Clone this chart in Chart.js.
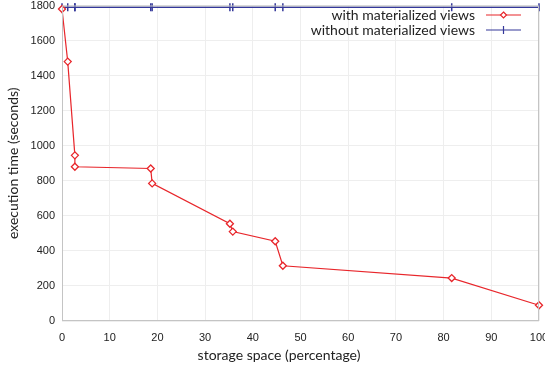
<!DOCTYPE html>
<html>
<head>
<meta charset="utf-8">
<script src="https://cdn.jsdelivr.net/npm/chart.js@4/dist/chart.umd.min.js"></script>
<style>
  html, body { margin: 0; padding: 0; background: #fff; }
  #wrap { width: 545px; height: 367px; }
</style>
</head>
<body>
<div id="wrap"><canvas id="chart"></canvas></div>
<script>
// storage space (%) vs execution time (s)
const storagePct = [0, 1.2, 2.7, 2.7, 18.6, 18.9, 35.2, 35.8, 44.7, 46.3, 81.7, 100];
const timeWithViews = [1780, 1480, 945, 880, 870, 785, 555, 510, 455, 315, 245, 90];
const timeWithoutViews = [1790, 1790, 1790, 1790, 1790, 1790, 1790, 1790, 1790, 1790, 1790, 1790];

const xTicks = [0, 10, 20, 30, 40, 50, 60, 70, 80, 90, 100];
const yTicks = [0, 200, 400, 600, 800, 1000, 1200, 1400, 1600, 1800];

const seriesLabels = ['with materialized views', 'without materialized views'];
const xTitle = 'storage space (percentage)';
const yTitle = 'execution time (seconds)';
const RED = '#e8262b';
const BLUE = '#34389a';
const TITLE_FONT = 'Lato, "Open Sans", sans-serif';

const toPoints = (xs, ys) => xs.map((x, i) => ({ x: x, y: ys[i] }));

// 图框 + 图例 + x轴标题 (gnuplot 风格)
const framePlugin = {
    id: 'frame',
    afterDatasetsDraw(chart) {
        const { ctx, chartArea: a } = chart;
        ctx.save();
        ctx.strokeStyle = '#c4c4c4';
        ctx.lineWidth = 1;
        ctx.strokeRect(a.left + 0.5, a.top + 0.5, a.right - a.left - 1, a.bottom - a.top - 1);

        // x 轴标题 (原图略偏左)
        ctx.font = '14px ' + TITLE_FONT;
        ctx.fillStyle = '#222';
        ctx.textAlign = 'center';
        ctx.textBaseline = 'middle';
        ctx.fillText(xTitle, 279, 355);

        // legend
        ctx.textAlign = 'right';
        const textRight = 475;
        const rows = [15, 30];
        const styles = [
            { color: RED, marker: 'diamond' },
            { color: BLUE, marker: 'tick' }
        ];
        rows.forEach((y, i) => {
            ctx.fillStyle = '#222';
            ctx.fillText(seriesLabels[i], textRight, y);
            const x0 = 486, x1 = 521, xm = (x0 + x1) / 2;
            ctx.strokeStyle = styles[i].color;
            ctx.lineWidth = 1.2;
            ctx.beginPath();
            ctx.moveTo(x0, y);
            ctx.lineTo(x1, y);
            ctx.stroke();
            ctx.beginPath();
            if (styles[i].marker === 'diamond') {
                ctx.moveTo(xm, y - 3);
                ctx.lineTo(xm + 3, y);
                ctx.lineTo(xm, y + 3);
                ctx.lineTo(xm - 3, y);
                ctx.closePath();
                ctx.fillStyle = '#fff';
                ctx.fill();
            } else {
                ctx.moveTo(xm, y - 4);
                ctx.lineTo(xm, y + 4);
            }
            ctx.stroke();
        });
        ctx.restore();
    }
};

new Chart(document.getElementById('chart'), {
    type: 'line',
    data: {
        datasets: [
            {
                label: seriesLabels[0],
                data: toPoints(storagePct, timeWithViews),
                borderColor: RED,
                backgroundColor: '#fff',
                borderWidth: 1.2,
                pointStyle: 'rectRot',
                pointRadius: 3.5,
                pointBorderWidth: 1.3,
                pointBorderColor: RED,
                tension: 0,
                clip: false
            },
            {
                label: seriesLabels[1],
                data: toPoints(storagePct, timeWithoutViews),
                borderColor: BLUE,
                backgroundColor: BLUE,
                borderWidth: 1.3,
                pointStyle: 'line',
                pointRotation: 90,
                pointRadius: 4,
                pointBorderWidth: 1.5,
                pointBorderColor: BLUE,
                tension: 0,
                clip: false
            }
        ]
    },
    options: {
        responsive: true,
        maintainAspectRatio: false,
        animation: false,
        layout: { padding: { top: 5, right: 6, left: 0, bottom: 0 } },
        plugins: {
            legend: { display: false },
            tooltip: { enabled: false }
        },
        scales: {
            x: {
                type: 'linear',
                min: 0,
                max: 100,
                afterBuildTicks(axis) { axis.ticks = xTicks.map(v => ({ value: v })); },
                afterFit(axis) {
                    axis.height = 46;
                    axis.paddingLeft = 0;
                    axis.paddingRight = 0;
                },
                grid: { color: '#eeeeee', drawTicks: false },
                border: { display: false },
                ticks: {
                    padding: 10,
                    color: '#222',
                    font: { family: '"Liberation Sans", Arial, sans-serif', size: 11 },
                    maxRotation: 0
                },
                title: { display: false }
            },
            y: {
                type: 'linear',
                min: 0,
                max: 1800,
                afterBuildTicks(axis) { axis.ticks = yTicks.map(v => ({ value: v })); },
                afterFit(axis) {
                    axis.width = 62;
                    axis.paddingTop = 0;
                    axis.paddingBottom = 0;
                },
                grid: { color: '#eeeeee', drawTicks: false },
                border: { display: false },
                ticks: {
                    padding: 7,
                    color: '#222',
                    font: { family: '"Liberation Sans", Arial, sans-serif', size: 11 },
                    callback: v => String(v)
                },
                title: {
                    display: true,
                    text: yTitle,
                    color: '#222',
                    font: { family: TITLE_FONT, size: 14 },
                    padding: { top: 5, bottom: 2 }
                }
            }
        }
    },
    plugins: [framePlugin]
});
</script>
</body>
</html>
